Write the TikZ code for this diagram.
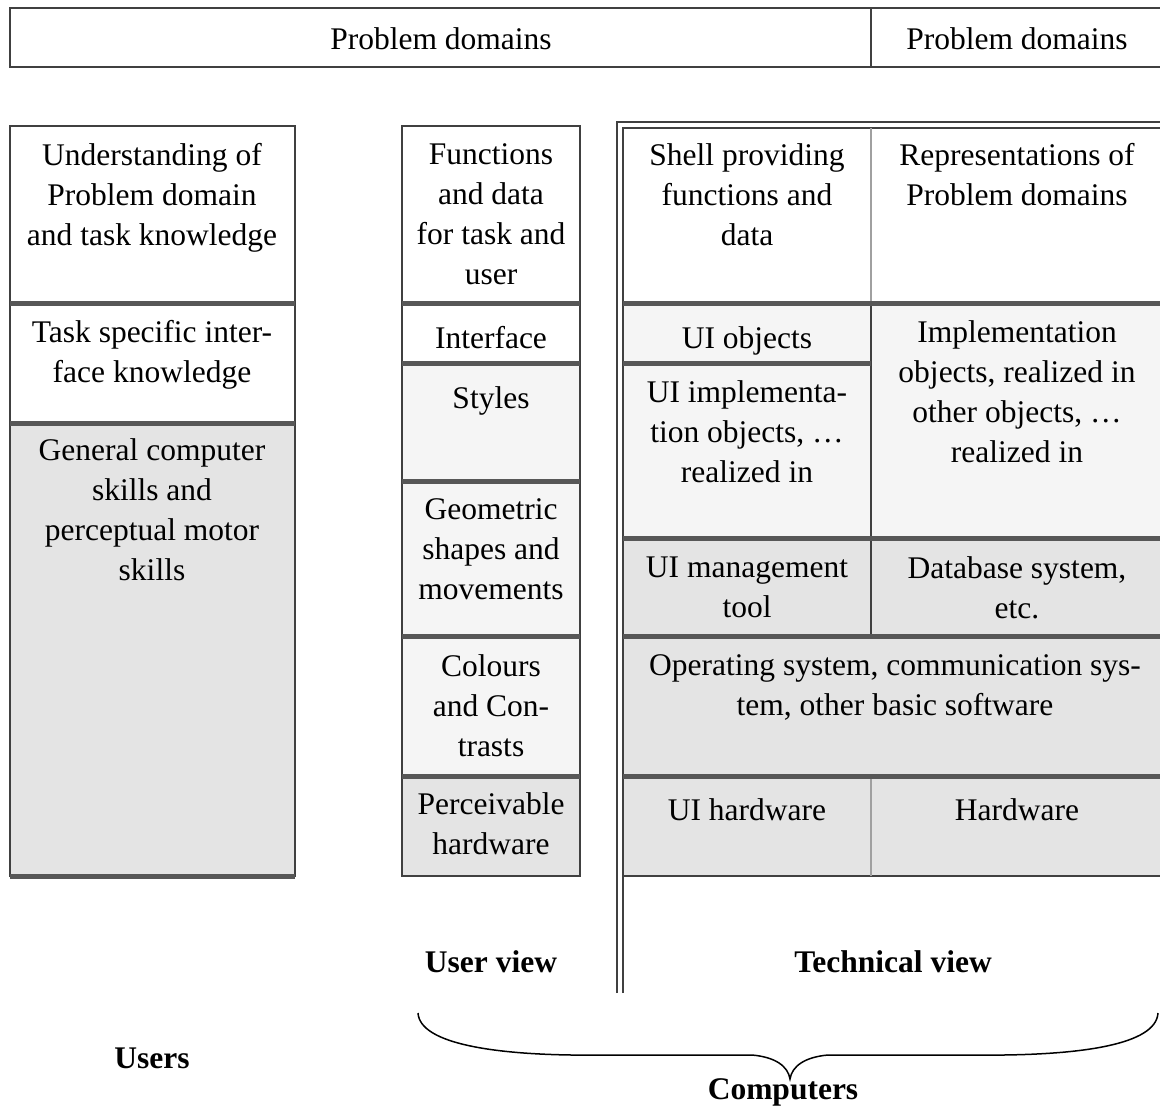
\documentclass[tikz,border=0pt]{standalone}
\usepackage{fontspec}
\setmainfont{Liberation Serif}
\usetikzlibrary{positioning}

\definecolor{cellLight}{HTML}{F5F5F5}
\definecolor{cellGray}{HTML}{E4E4E4}
\definecolor{sepGray}{HTML}{575757}
\definecolor{faintLine}{HTML}{A0A0A0}

\tikzset{
  celltext/.style={anchor=north,align=center,inner sep=0pt,font=\fontsize{12.6}{16}\selectfont,execute at begin node=\strut},
  viewlabel/.style={inner sep=0pt,font=\fontsize{12.6}{16}\selectfont\bfseries},
  sepline/.style={draw=sepGray,line width=2pt},
  frameline/.style={draw=black!75,line width=0.6pt},
  faintline/.style={draw=faintLine,line width=0.6pt},
}

\begin{document}
\begin{tikzpicture}[x=0.4pt,y=-0.4pt]
		\useasboundingbox (0,0) rectangle (1160,1109);
		% problem domains bar
		\draw[frameline] (10,8) rectangle (1165,67);
		\draw[frameline] (871,8) -- (871,67);
		\node[celltext] (pdUser) at (441,21) {Problem domains};
		\node[celltext] (pdTech) at (1017,21) {Problem domains};
		
		% users
		\fill[cellGray] (10,423) rectangle (295,876);
		\draw[frameline] (10,126) rectangle (295,876);
		\foreach \y in {303,423,876} \draw[sepline] (10,\y) -- (295,\y);
		\node[celltext] (understanding) at (152,143) {Understanding of\\Problem domain\\and task knowledge};
		\node[celltext] (taskSpecific) at (152,320) {Task specific inter-\\face knowledge};
		\node[celltext] (generalSkills) at (152,438) {General computer\\skills and\\perceptual motor\\skills};
		
		% user view
		\fill[cellLight] (402,363) rectangle (580,776);
		\fill[cellGray] (402,776) rectangle (580,876);
		\draw[frameline] (402,126) rectangle (580,876);
		\foreach \y in {303,363,481,636,776} \draw[sepline] (402,\y) -- (580,\y);
		\node[celltext] (functions) at (491,143) {Functions\\and data\\for task and\\user};
		\node[celltext] (interface) at (491,320) {Interface};
		\node[celltext] (styles) at (491,380) {Styles};
		\node[celltext] (geometric) at (491,498) {Geometric\\shapes and\\movements};
		\node[celltext] (colours) at (491,654) {Colours\\and Con-\\trasts};
		\node[celltext] (perceivable) at (491,792) {Perceivable\\hardware};
		
		% technical view
		\fill[cellLight] (623,303) rectangle (1165,538);
		\fill[cellGray] (623,538) rectangle (1165,876);
		\draw[frameline] (617,993) -- (617,122) -- (1165,122);
		\draw[frameline] (623,993) -- (623,128) -- (1165,128);
		\draw[frameline] (623,876) -- (1165,876);
		\draw[faintline] (871,128) -- (871,303);
		\draw[frameline] (871,303) -- (871,636);
		\draw[faintline] (871,776) -- (871,876);
		\foreach \y in {303,538,636,776} \draw[sepline] (623,\y) -- (1165,\y);
		\draw[sepline] (623,363) -- (871,363);
		\node[celltext] (shell) at (747,143) {Shell providing\\functions and\\data};
		\node[celltext] (representations) at (1017,143) {Representations of\\Problem domains};
		\node[celltext] (uiObjects) at (747,320) {UI objects};
		\node[celltext] (uiImpl) at (747,380) {UI implementa-\\tion objects, …\\realized in};
		\node[celltext] (implObjects) at (1017,320) {Implementation\\objects, realized in\\other objects, …\\realized in};
		\node[celltext] (uiManagement) at (747,556) {UI management\\tool};
		\node[celltext] (database) at (1017,556) {Database system,\\etc.};
		\node[celltext] (operating) at (895,654) {Operating system, communication sys-\\tem, other basic software};
		\node[celltext] (uiHardware) at (747,792) {UI hardware};
		\node[celltext] (hardware) at (1017,792) {Hardware};
		
		% labels
		\node[viewlabel] (userView) at (491,962) {User view};
		\node[viewlabel] (techView) at (893,962) {Technical view};
		\node[viewlabel] (users) at (152,1058) {Users};
		\draw[line width=0.6pt] (418,1013) .. controls (420,1045) and (500,1054) .. (572,1055) -- (752,1055)
			.. controls (775,1057) and (788,1066) .. (790,1079)
			.. controls (792,1066) and (805,1057) .. (828,1055) -- (1003,1055)
			.. controls (1080,1054) and (1156,1045) .. (1158,1013);
		\node[viewlabel] (computers) at (783,1092) {Computers};
	\end{tikzpicture}
\end{document}
